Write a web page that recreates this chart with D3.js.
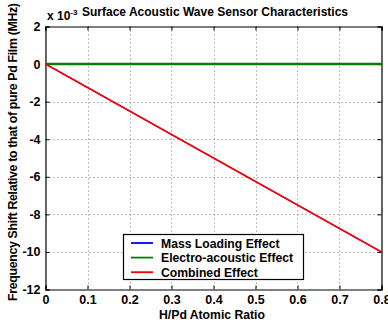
<!DOCTYPE html>
<html>
<head>
<meta charset="utf-8">
<script src="https://cdn.jsdelivr.net/npm/d3@7"></script>
<style>
  html, body { margin: 0; padding: 0; background: #fff; }
  svg text { font-family: "Liberation Sans", Arial, sans-serif; font-weight: bold; fill: #000; }
</style>
</head>
<body>
<svg id="chart" width="388" height="322"></svg>
<script>
// H/Pd atomic ratio and the frequency shift of each effect (units of 1e-3 MHz)
const hRatio       = [0, 0.1, 0.2, 0.3, 0.4, 0.5, 0.6, 0.7, 0.8];
const massLoading  = [0, -1.25, -2.5, -3.75, -5, -6.25, -7.5, -8.75, -10];
const electroAcoustic = [0, 0, 0, 0, 0, 0, 0, 0, 0];
const combined     = [0, -1.25, -2.5, -3.75, -5, -6.25, -7.5, -8.75, -10];

const xTicks = [0, 0.1, 0.2, 0.3, 0.4, 0.5, 0.6, 0.7, 0.8];
const yTicks = [2, 0, -2, -4, -6, -8, -10, -12];

const seriesNames  = ["Mass Loading Effect", "Electro-acoustic Effect", "Combined Effect"];
const seriesColors = ["#0000ff", "#008000", "#ff0000"];
const seriesWidths = [1.2, 2.4, 1.6];
const seriesValues = [massLoading, electroAcoustic, combined];

const svg = d3.select("#chart");
const plotL = 45.5, plotR = 381.5, plotT = 26.5, plotB = 289.5;

const x = d3.scaleLinear().domain([0, 0.8]).range([plotL, plotR]);
const y = d3.scaleLinear().domain([-12, 2]).range([plotB, plotT]);

// dotted grid
const grid = svg.append("g").attr("stroke", "#000").attr("stroke-width", 1)
  .attr("stroke-dasharray", "1,3").attr("opacity", 0.5);
xTicks.slice(1, -1).forEach(v => {
  grid.append("line").attr("x1", Math.round(x(v)) + 0.5).attr("x2", Math.round(x(v)) + 0.5)
    .attr("y1", plotT).attr("y2", plotB);
});
yTicks.slice(1, -1).forEach(v => {
  grid.append("line").attr("y1", Math.round(y(v)) + 0.5).attr("y2", Math.round(y(v)) + 0.5)
    .attr("x1", plotL).attr("x2", plotR);
});

// axes with inward ticks
const xAxis = svg.append("g").attr("transform", `translate(0,${plotB})`)
  .call(d3.axisBottom(x).tickValues(xTicks).tickSize(-4).tickPadding(6).tickFormat(d => String(d)));
const xTop = svg.append("g").attr("transform", `translate(0,${plotT})`)
  .call(d3.axisTop(x).tickValues(xTicks).tickSize(-4).tickFormat(""));
const yAxis = svg.append("g").attr("transform", `translate(${plotL},0)`)
  .call(d3.axisLeft(y).tickValues(yTicks).tickSize(-4).tickPadding(5).tickFormat(d => String(d)));
const yRight = svg.append("g").attr("transform", `translate(${plotR},0)`)
  .call(d3.axisRight(y).tickValues(yTicks).tickSize(-4).tickFormat(""));

[xAxis, xTop, yAxis, yRight].forEach(g => {
  g.select(".domain").attr("stroke", "#000").attr("stroke-width", 1.2);
  g.selectAll(".tick line").attr("stroke", "#000");
  g.selectAll("text").attr("font-size", 12.5).attr("font-family", "Liberation Sans, Arial, sans-serif")
    .attr("font-weight", "bold").attr("fill", "#000");
});

// series lines
const line = d3.line().x((d, i) => x(hRatio[i])).y(d => y(d));
seriesValues.forEach((vals, k) => {
  svg.append("path").datum(vals).attr("d", line)
    .attr("fill", "none").attr("stroke", seriesColors[k]).attr("stroke-width", seriesWidths[k]);
});

// exponent marker and title
const ex = svg.append("text").attr("x", 47).attr("y", 20).attr("font-size", 12);
ex.append("tspan").text("x 10");
ex.append("tspan").attr("dy", -5).attr("font-size", 8).text("-3");
svg.append("text").attr("x", 82).attr("y", 16).attr("font-size", 12)
  .attr("textLength", 266).attr("lengthAdjust", "spacingAndGlyphs")
  .text("Surface Acoustic Wave Sensor Characteristics");

// axis labels
svg.append("text").attr("x", 212).attr("y", 318.5).attr("text-anchor", "middle")
  .attr("font-size", 12.2).text("H/Pd Atomic Ratio");
svg.append("text").attr("transform", `translate(17,152) rotate(-90)`)
  .attr("text-anchor", "middle").attr("font-size", 12.4)
  .attr("textLength", 298).attr("lengthAdjust", "spacing")
  .text("Frequency Shift Relative to that of pure Pd Film (MHz)");

// legend
const lg = svg.append("g");
lg.append("rect").attr("x", 123.5).attr("y", 234.5).attr("width", 180).attr("height", 45)
  .attr("fill", "#fff").attr("stroke", "#000").attr("stroke-width", 1.2);
seriesNames.forEach((name, k) => {
  const ly = 243 + k * 14.6;
  lg.append("line").attr("x1", 131).attr("x2", 153).attr("y1", ly).attr("y2", ly)
    .attr("stroke", seriesColors[k]).attr("stroke-width", 1.8);
  lg.append("text").attr("x", 161).attr("y", ly + 4.5).attr("font-size", 12.2).text(name);
});
</script>
</body>
</html>
